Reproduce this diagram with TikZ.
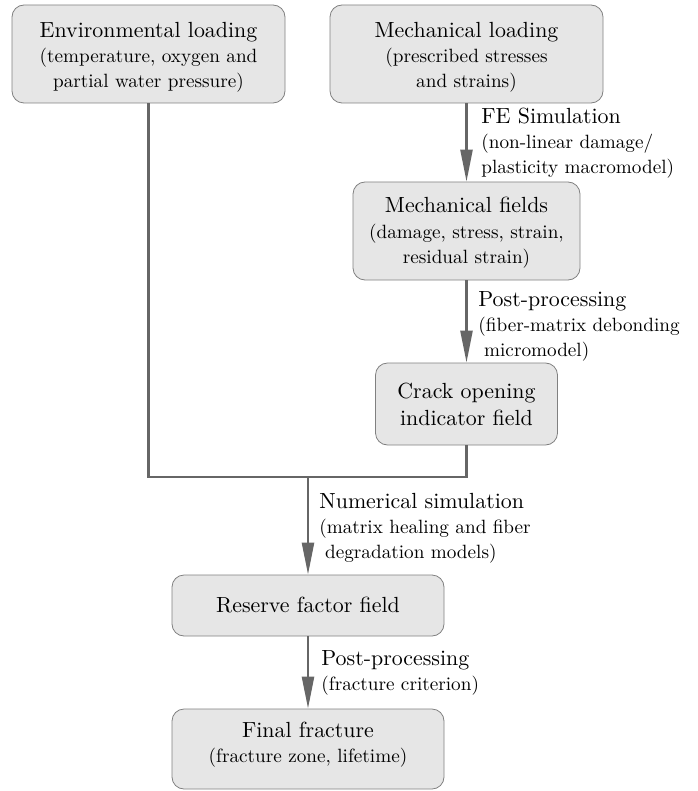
\documentclass[tikz,border=0pt]{standalone}
\usetikzlibrary{arrows.meta}
\definecolor{boxfill}{HTML}{E6E6E6}
\definecolor{boxline}{HTML}{808080}
\definecolor{conncol}{HTML}{666666}
\newcommand{\mainfs}{\fontsize{10.95}{12.5}\selectfont}
\tikzset{
  box/.style={draw=boxline, fill=boxfill, rounded corners=6pt, line width=0.4pt,
    align=center, inner sep=0pt, font=\fontsize{9.6}{12.5}\selectfont},
  conn/.style={draw=conncol, line width=1.2pt},
  arr/.style={conn, -{Triangle[length=16pt,width=6pt]}},
  lab/.style={anchor=base west, align=left, inner sep=0pt, font=\fontsize{9.6}{12.5}\selectfont}
}
\begin{document}
\begin{tikzpicture}[x=0.5pt,y=-0.5pt]
\useasboundingbox (0,0) rectangle (697,791);
\node[box, minimum width=136.5pt, minimum height=49pt] (env) at (148.5,54)
  {\rule{0pt}{10.6pt}{\mainfs Environmental loading}\\(temperature, oxygen and\\partial water pressure)};
\node[box, minimum width=136.5pt, minimum height=49pt] (mload) at (466.5,54)
  {\rule{0pt}{10.6pt}{\mainfs Mechanical loading}\\(prescribed stresses\\and strains)};
\node[box, minimum width=113.5pt, minimum height=49pt] (mfield) at (466.5,231)
  {\rule{0pt}{9.4pt}{\mainfs Mechanical fields}\\(damage, stress, strain,\\residual strain)};
\node[box, minimum width=91pt, minimum height=41pt] (crack) at (466.5,404)
  {{\mainfs Crack opening}\\[1pt]{\mainfs indicator field}};
\node[box, minimum width=136pt, minimum height=30.5pt] (reserve) at (308,605.5)
  {{\mainfs Reserve factor field}};
\node[box, minimum width=136pt, minimum height=40pt] (final) at (308,749)
  {{\mainfs Final fracture}\\(fracture zone, lifetime)\rule[-7pt]{0pt}{0pt}};
\coordinate (jn) at (308,477);
\draw[conn] (env.south) |- (jn) -| (crack.south);
\draw[arr] (jn) -- (reserve.north);
\draw[arr] (mload.south) -- (mfield.north);
\draw[arr] (mfield.south) -- (crack.north);
\draw[arr] (reserve.south) -- (final.north);
\node[lab] (l1) at (481,174) {{\mainfs FE Simulation}\\(non-linear damage/\\plasticity macromodel)};
\node[lab] (l2) at (478,356) {{\mainfs Post-processing}\\(fiber-matrix debonding\\\hspace{0.3em}micromodel)};
\node[lab] (l3) at (319,558) {{\mainfs Numerical simulation}\\(matrix healing and fiber\\\hspace{0.3em}degradation models)};
\node[lab] (l4) at (321,690) {{\mainfs Post-processing}\\(fracture criterion)};
\end{tikzpicture}
\end{document}
